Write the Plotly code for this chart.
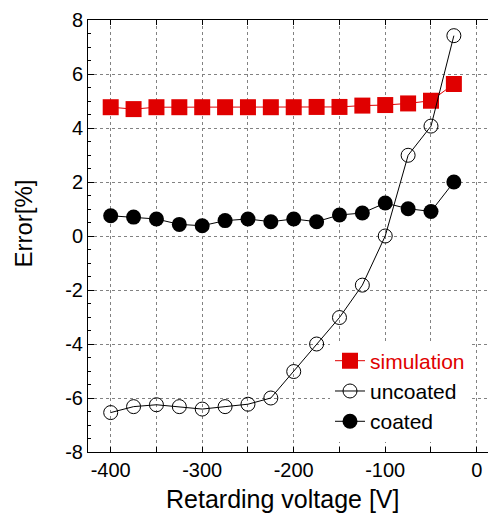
import plotly.graph_objects as go

# Retarding voltage [V]
voltage = [-400, -375, -350, -325, -300, -275, -250, -225,
           -200, -175, -150, -125, -100, -75, -50, -25]

# Error [%] for each case
simulation = [4.77, 4.70, 4.77, 4.77, 4.77, 4.77, 4.77, 4.77,
              4.77, 4.78, 4.78, 4.83, 4.85, 4.91, 5.01, 5.63]
uncoated = [-6.54, -6.32, -6.25, -6.32, -6.41, -6.32, -6.23, -6.00,
            -5.02, -4.00, -3.02, -1.82, 0.00, 2.99, 4.07, 7.42]
coated = [0.75, 0.70, 0.63, 0.43, 0.38, 0.57, 0.63, 0.53,
          0.63, 0.53, 0.78, 0.85, 1.22, 1.01, 0.91, 2.00]

x_ticks = [-400, -300, -200, -100, 0]
y_ticks = [-8, -6, -4, -2, 0, 2, 4, 6, 8]

RED = "rgb(224,0,0)"
FONT = "Liberation Sans, Arial, sans-serif"
GRID = "rgb(130,130,130)"

fig = go.Figure()
fig.add_trace(go.Scatter(
    x=voltage, y=simulation, mode="lines+markers",
    name=f"<span style='color:{RED}'>simulation</span>",
    line=dict(color=RED, width=1),
    marker=dict(symbol="square", size=16, color=RED),
))
fig.add_trace(go.Scatter(
    x=voltage, y=uncoated, mode="lines+markers", name="uncoated",
    line=dict(color="black", width=1),
    marker=dict(symbol="circle-open", size=14, color="black",
                line=dict(width=1, color="black")),
))
fig.add_trace(go.Scatter(
    x=voltage, y=coated, mode="lines+markers", name="coated",
    line=dict(color="black", width=1),
    marker=dict(symbol="circle", size=15, color="black"),
))

fig.update_layout(
    width=488, height=513,
    margin=dict(l=88, r=0, t=20, b=61),
    paper_bgcolor="white", plot_bgcolor="white",
    font=dict(family=FONT, size=20, color="black"),
    showlegend=True,
    legend=dict(
        x=0.605, y=0.258, xanchor="left", yanchor="top",
        bgcolor="white", borderwidth=0,
        font=dict(size=21, family=FONT),
        tracegroupgap=0,
    ),
    xaxis=dict(
        range=[-424.8, 12.3],
        tickvals=x_ticks, ticktext=[str(v) for v in x_ticks],
        ticks="inside", ticklen=5, tickcolor="black", tickwidth=1,
        showline=True, linecolor="black", linewidth=1, mirror="ticks",
        showgrid=True, gridcolor=GRID, griddash="dot", gridwidth=1,
        minor=dict(dtick=50, tick0=0, ticks="inside", ticklen=5,
                   tickcolor="black", showgrid=True,
                   gridcolor=GRID, griddash="dot", gridwidth=1),
        zeroline=False,
        tickfont=dict(size=20),
    ),
    yaxis=dict(
        range=[-8, 8],
        tickvals=y_ticks, ticktext=[str(v) for v in y_ticks],
        ticks="inside", ticklen=6, tickcolor="black", tickwidth=1,
        showline=True, linecolor="black", linewidth=1,
        showgrid=True, gridcolor=GRID, griddash="dot", gridwidth=1,
        minor=dict(dtick=0.5, tick0=0, ticks="inside", ticklen=3,
                   tickcolor="black", showgrid=False),
        zeroline=False,
        tickfont=dict(size=20),
    ),
    annotations=[
        dict(text="Retarding voltage [V]", xref="paper", yref="paper",
             x=0.486, y=-0.109, xanchor="center", yanchor="middle",
             showarrow=False, font=dict(size=25, family=FONT)),
        dict(text="Error[%]", xref="paper", yref="paper",
             x=-0.1625, y=0.529, xanchor="center", yanchor="middle",
             textangle=-90, showarrow=False, font=dict(size=24, family=FONT)),
    ],
)

fig.write_html("out.html")
